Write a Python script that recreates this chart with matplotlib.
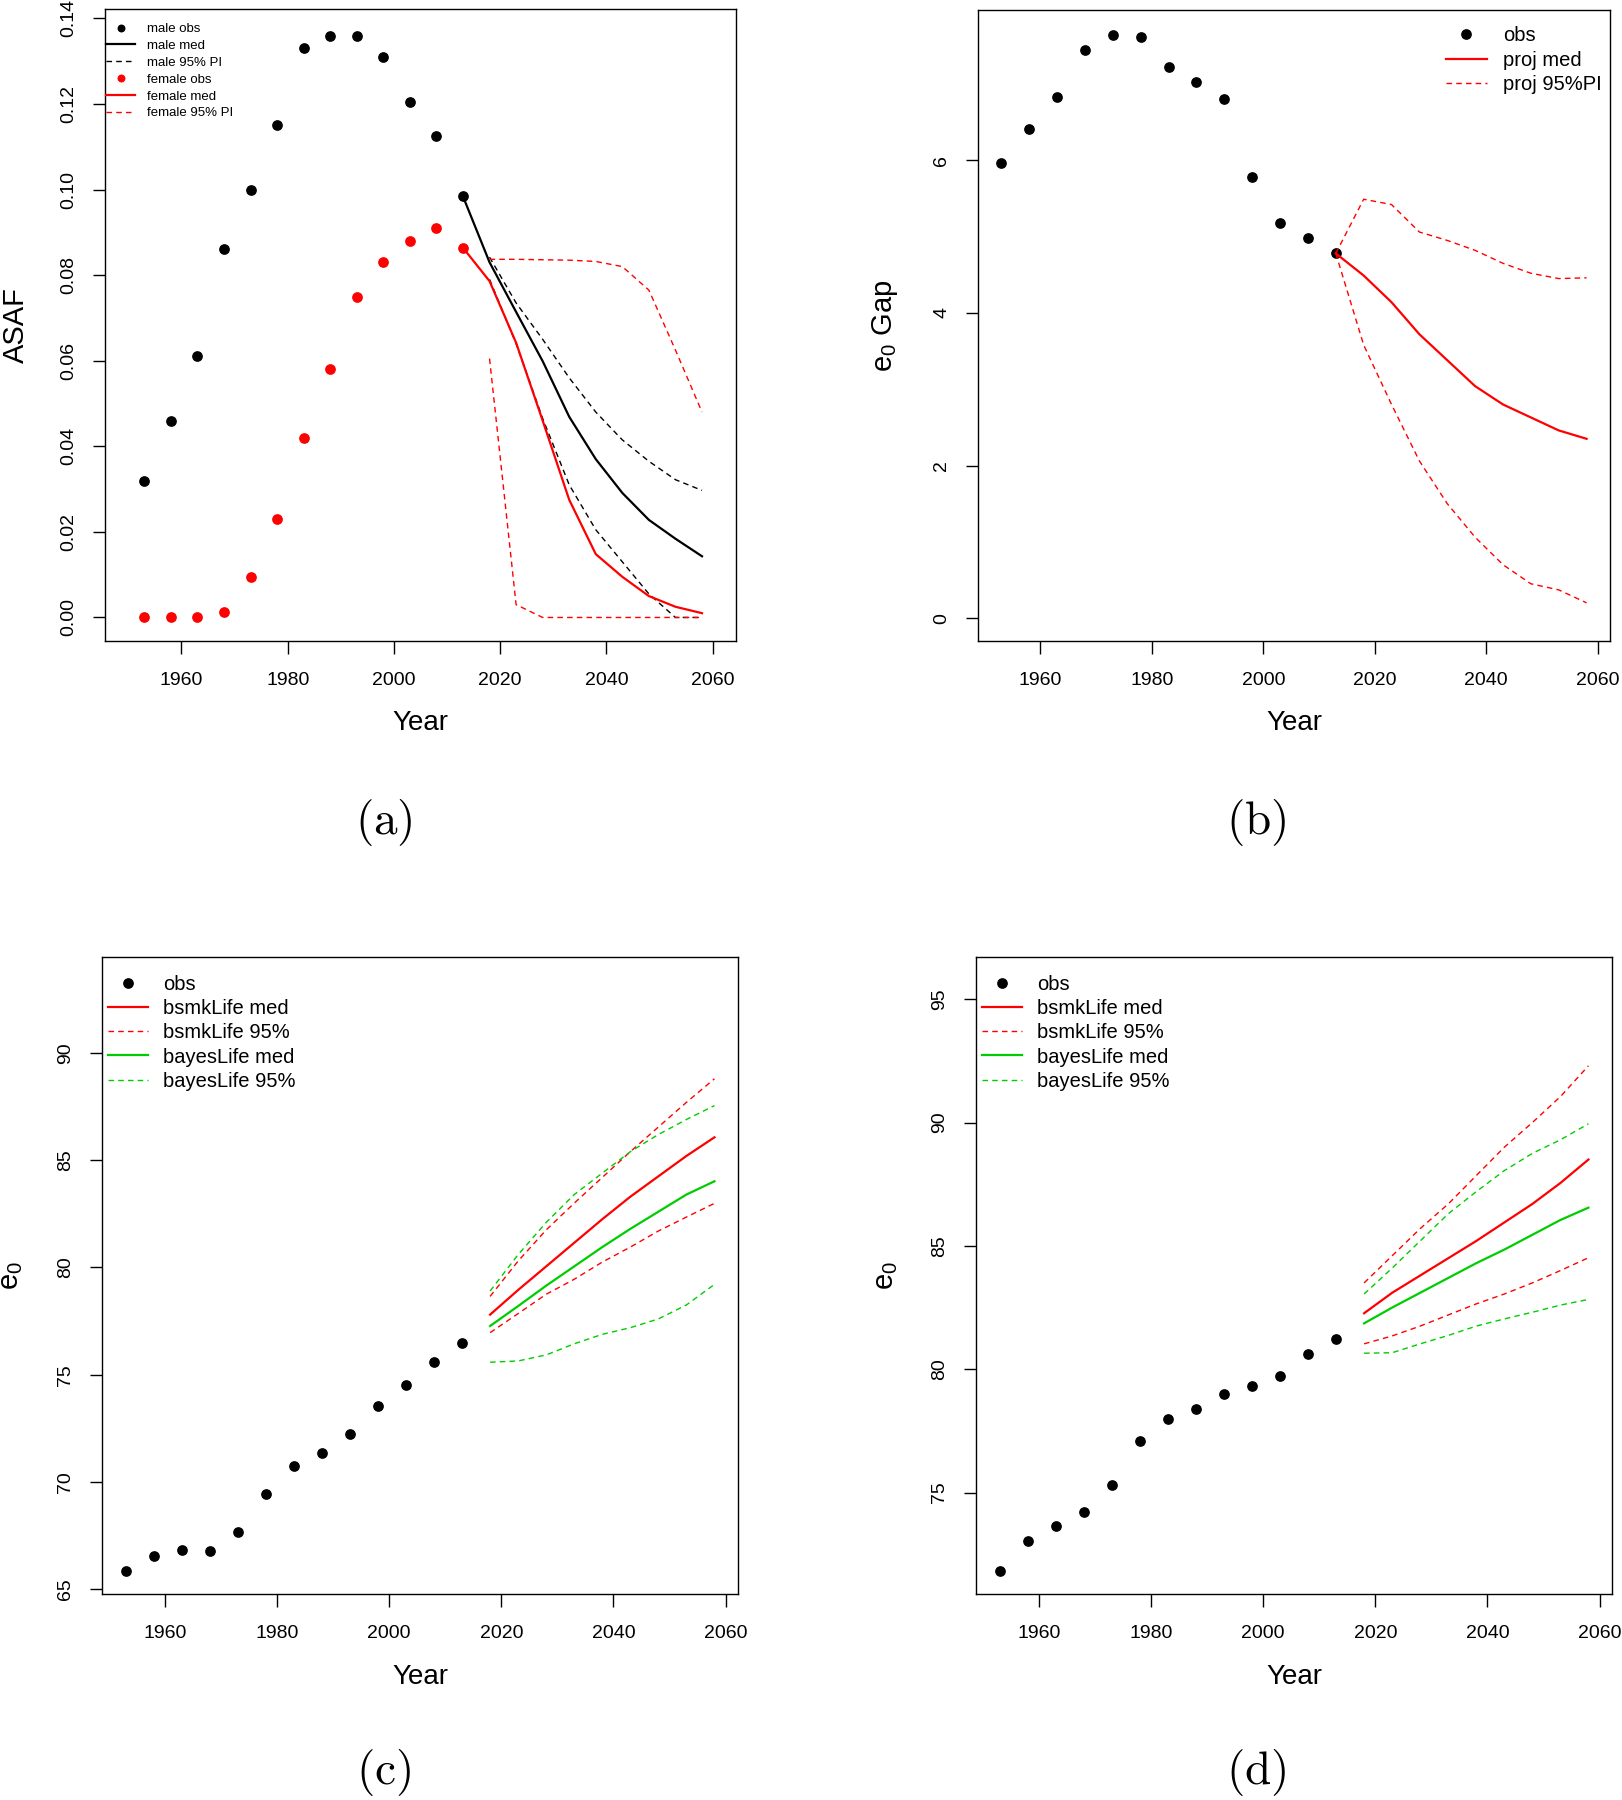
import matplotlib
matplotlib.use('Agg')
import matplotlib.pyplot as plt

plt.rcParams['font.family'] = ['Liberation Sans', 'DejaVu Sans']
plt.rcParams['mathtext.fontset'] = 'custom'
plt.rcParams['mathtext.rm'] = 'Liberation Sans'
plt.rcParams['mathtext.it'] = 'Liberation Sans:italic'

RED = '#ff0000'
GREEN = '#00cd00'

obs_years = [1953, 1958, 1963, 1968, 1973, 1978, 1983, 1988, 1993, 1998, 2003, 2008, 2013]
med_years = [2013, 2018, 2023, 2028, 2033, 2038, 2043, 2048, 2053, 2058]
pi_years = [2018, 2023, 2028, 2033, 2038, 2043, 2048, 2053, 2058]

# (a) ASAF
male_obs = [0.032, 0.046, 0.061, 0.086, 0.100, 0.115, 0.133, 0.136, 0.136, 0.131, 0.1205, 0.1125, 0.0984]
male_med = [0.0984, 0.083, 0.0714, 0.0599, 0.0469, 0.0370, 0.0291, 0.0228, 0.0184, 0.0143]
male_lo = [0.079, 0.064, 0.0465, 0.031, 0.0205, 0.013, 0.0055, 0.0, 0.0]
male_hi = [0.0842, 0.0735, 0.065, 0.056, 0.048, 0.0415, 0.0365, 0.0322, 0.0297]
female_obs = [0.0, 0.0, 0.0, 0.0013, 0.0095, 0.023, 0.042, 0.058, 0.075, 0.083, 0.088, 0.091, 0.0864]
female_med = [0.0864, 0.0786, 0.0642, 0.046, 0.0275, 0.0148, 0.0095, 0.005, 0.0025, 0.001]
female_lo = [0.0605, 0.003, 0.0, 0.0, 0.0, 0.0, 0.0, 0.0, 0.0]
female_hi = [0.0837, 0.0837, 0.0836, 0.0835, 0.0832, 0.082, 0.0765, 0.0625, 0.048]

# (b) e0 gap
gap_obs = [5.97, 6.41, 6.83, 7.44, 7.64, 7.61, 7.22, 7.03, 6.80, 5.78, 5.18, 4.98, 4.78]
gap_med = [4.78, 4.49, 4.14, 3.72, 3.38, 3.04, 2.80, 2.63, 2.46, 2.35]
gap_lo = [4.78, 3.58, 2.80, 2.06, 1.50, 1.06, 0.70, 0.45, 0.37, 0.20]
gap_hi = [4.78, 5.49, 5.42, 5.06, 4.95, 4.82, 4.65, 4.52, 4.45, 4.46]

# (c) e0
c_obs = [65.83, 66.55, 66.81, 66.76, 67.67, 69.45, 70.75, 71.34, 72.22, 73.54, 74.52, 75.58, 76.46]
c_bsmk_med = [77.8, 78.95, 80.05, 81.15, 82.25, 83.3, 84.25, 85.2, 86.07]
c_bsmk_lo = [76.96, 77.85, 78.75, 79.45, 80.25, 80.95, 81.7, 82.35, 82.99]
c_bsmk_hi = [78.65, 80.3, 81.75, 83.0, 84.2, 85.4, 86.55, 87.7, 88.8]
c_bayes_med = [77.27, 78.2, 79.15, 80.05, 80.95, 81.8, 82.6, 83.4, 84.02]
c_bayes_lo = [75.58, 75.64, 75.92, 76.44, 76.88, 77.19, 77.6, 78.25, 79.21]
c_bayes_hi = [78.9, 80.6, 82.1, 83.4, 84.4, 85.4, 86.2, 86.9, 87.55]

# (d) e0
d_obs = [71.81, 73.02, 73.63, 74.21, 75.31, 77.09, 77.97, 78.40, 79.00, 79.32, 79.72, 80.60, 81.21]
d_bsmk_med = [82.27, 83.1, 83.8, 84.5, 85.2, 85.95, 86.7, 87.55, 88.5]
d_bsmk_lo = [81.03, 81.35, 81.75, 82.2, 82.65, 83.05, 83.5, 84.0, 84.52]
d_bsmk_hi = [83.5, 84.6, 85.7, 86.7, 87.85, 89.0, 90.0, 91.05, 92.3]
d_bayes_med = [81.86, 82.5, 83.1, 83.7, 84.3, 84.85, 85.45, 86.05, 86.55]
d_bayes_lo = [80.65, 80.67, 81.03, 81.37, 81.75, 82.04, 82.31, 82.6, 82.83]
d_bayes_hi = [83.05, 84.1, 85.2, 86.3, 87.2, 88.05, 88.75, 89.3, 89.95]

x_ticks = [1960, 1980, 2000, 2020, 2040, 2060]

W, H = 1622, 1800
fig = plt.figure(figsize=(W / 100, H / 100), dpi=100)


def box(l, t, r, b):
    return fig.add_axes([l / W, 1 - b / H, (r - l) / W, (b - t) / H])


def style(ax, xlim, ylim, yticks, yfmt, ylabel, ylx):
    ax.set_xlim(xlim)
    ax.set_ylim(ylim)
    ax.set_xticks(x_ticks)
    ax.set_yticks(yticks)
    ax.set_yticklabels([yfmt.format(v) for v in yticks], rotation=90, va='center')
    ax.tick_params(direction='out', length=9, width=1, labelsize=14, pad=11)
    ax.tick_params(axis='x', pad=13)
    for s in ax.spines.values():
        s.set_linewidth(1)
    ax.set_xlabel('Year', fontsize=20)
    ax.xaxis.label.set_va('center')
    ax.xaxis.set_label_coords(0.5, -0.13)
    ax.set_ylabel(ylabel, fontsize=21)
    ax.yaxis.label.set_va('center')
    ax.yaxis.set_label_coords(ylx, 0.5)


dash = (4, 3)
ms = 6.7

# ---- (a)
ax = box(105, 9, 736, 641)
ax.plot(obs_years, male_obs, 'o', color='k', ms=ms, label='male obs')
ax.plot(med_years, male_med, '-', color='k', lw=1.6, label='male med')
ax.plot(pi_years, male_lo, '--', color='k', lw=1, dashes=dash, label='male 95% PI')
ax.plot(pi_years, male_hi, '--', color='k', lw=1, dashes=dash)
ax.plot(obs_years, female_obs, 'o', color=RED, ms=ms, label='female obs')
ax.plot(med_years, female_med, '-', color=RED, lw=1.6, label='female med')
ax.plot(pi_years, female_lo, '--', color=RED, lw=1, dashes=dash, label='female 95% PI')
ax.plot(pi_years, female_hi, '--', color=RED, lw=1, dashes=dash)
style(ax, (1945.6, 2064.4), (-0.0055, 0.1422), [0, 0.02, 0.04, 0.06, 0.08, 0.10, 0.12, 0.14],
      '{:.2f}', 'ASAF', -0.141)
ax.legend(loc='upper left', bbox_to_anchor=(0.002, 0.978), frameon=False, fontsize=9.5,
          handlelength=2.2, handletextpad=0.9, labelspacing=0.35, borderaxespad=0,
          borderpad=0, markerscale=0.7)

# ---- (b)
ax = box(978, 10, 1610, 641)
ax.plot(obs_years, gap_obs, 'o', color='k', ms=ms, label='obs')
ax.plot(med_years, gap_med, '-', color=RED, lw=1.6, label='proj med')
ax.plot(med_years, gap_lo, '--', color=RED, lw=1, dashes=dash, label='proj 95%PI')
ax.plot(med_years, gap_hi, '--', color=RED, lw=1, dashes=dash)
style(ax, (1948.8, 2062.2), (-0.30, 7.97), [0, 2, 4, 6], '{:d}', r'$\mathrm{e_0}$ Gap', -0.147)
ax.legend(loc='upper left', bbox_to_anchor=(0.741, 0.974), frameon=False, fontsize=14.5,
          handlelength=2.0, handletextpad=0.8, labelspacing=0.26, borderaxespad=0, borderpad=0)


def e0_panel(ax, obs, bm, blo, bhi, gm, glo, ghi):
    ax.plot(obs_years, obs, 'o', color='k', ms=ms, label='obs')
    ax.plot(pi_years, bm, '-', color=RED, lw=1.6, label='bsmkLife med')
    ax.plot(pi_years, blo, '--', color=RED, lw=1, dashes=dash, label='bsmkLife 95%')
    ax.plot(pi_years, bhi, '--', color=RED, lw=1, dashes=dash)
    ax.plot(pi_years, gm, '-', color=GREEN, lw=1.6, label='bayesLife med')
    ax.plot(pi_years, glo, '--', color=GREEN, lw=1, dashes=dash, label='bayesLife 95%')
    ax.plot(pi_years, ghi, '--', color=GREEN, lw=1, dashes=dash)
    ax.legend(loc='upper left', bbox_to_anchor=(0.0094, 0.972), frameon=False, fontsize=14.5,
              handlelength=2.0, handletextpad=0.75, labelspacing=0.26, borderaxespad=0,
              borderpad=0)


# ---- (c)
ax = box(102, 957, 738, 1594)
e0_panel(ax, c_obs, c_bsmk_med, c_bsmk_lo, c_bsmk_hi, c_bayes_med, c_bayes_lo, c_bayes_hi)
style(ax, (1948.8, 2062.2), (64.77, 94.48), [65, 70, 75, 80, 85, 90], '{:d}',
      r'$\mathrm{e_0}$', -0.143)

# ---- (d)
ax = box(976, 957, 1612, 1594)
e0_panel(ax, d_obs, d_bsmk_med, d_bsmk_lo, d_bsmk_hi, d_bayes_med, d_bayes_lo, d_bayes_hi)
style(ax, (1948.8, 2062.2), (70.89, 96.71), [75, 80, 85, 90, 95], '{:d}',
      r'$\mathrm{e_0}$', -0.1415)

for lab, x, y in [('(a)', 384, 823), ('(b)', 1256, 823), ('(c)', 384, 1773), ('(d)', 1256, 1773)]:
    fig.text(x / W, 1 - y / H, r'$\mathrm{' + lab + '}$', fontsize=34, ha='center',
             va='center', math_fontfamily='cm')

fig.savefig('out.png', dpi=100)
